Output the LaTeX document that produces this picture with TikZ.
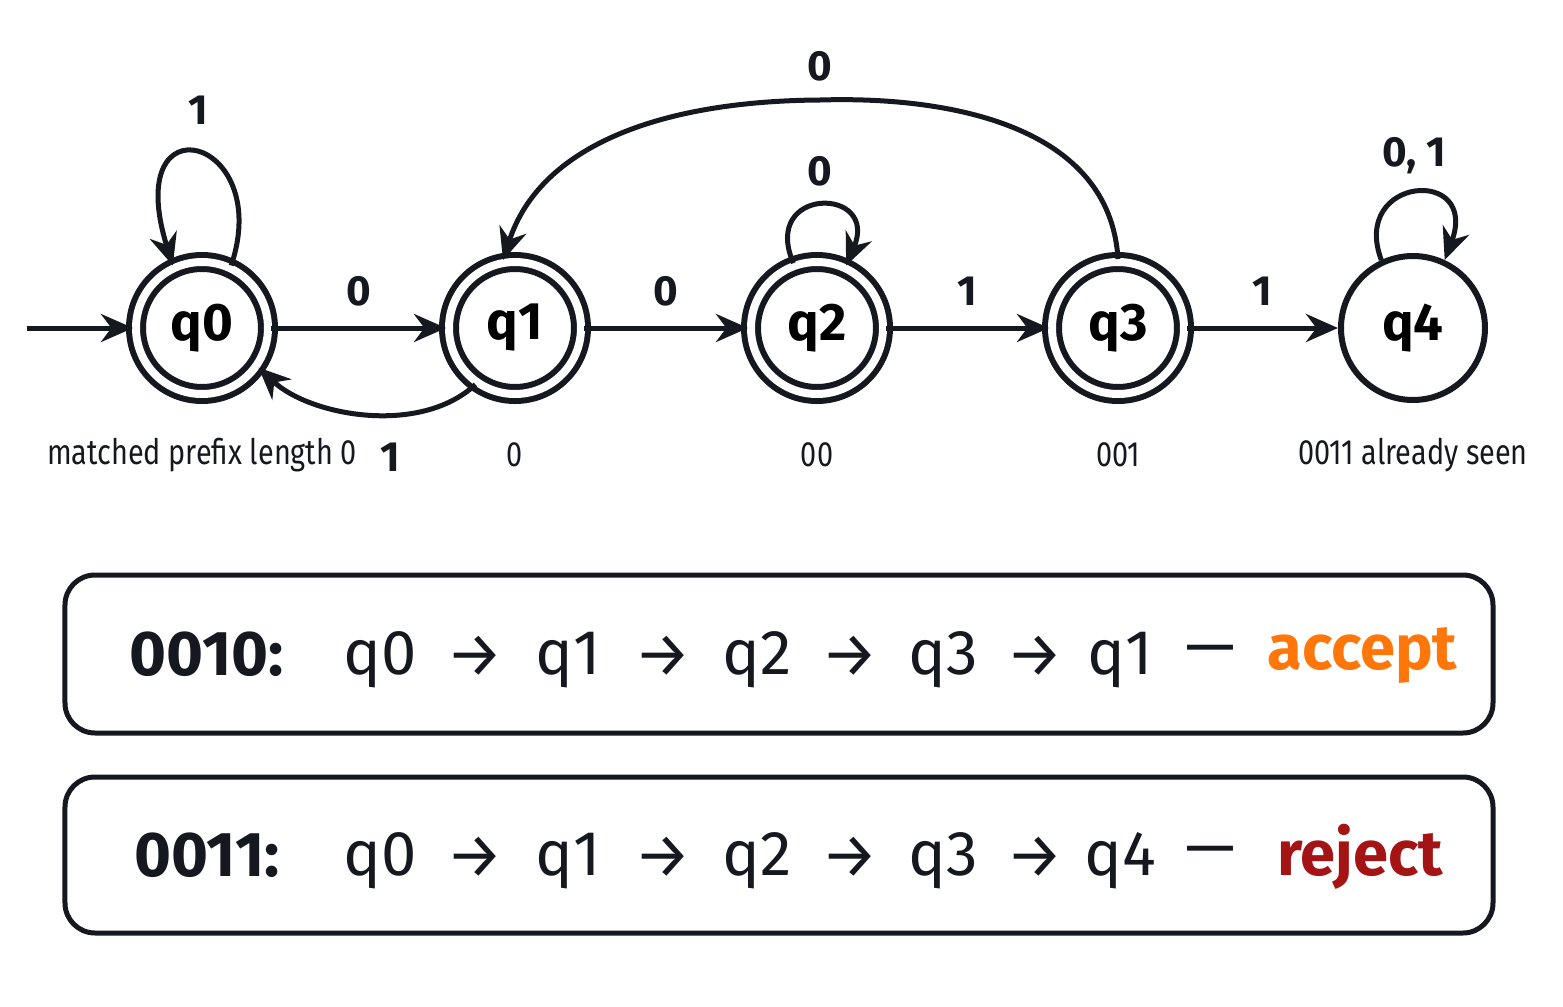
\documentclass[tikz,border=0pt]{standalone}
\usepackage{fontspec}
\setmainfont{Fira Sans}
\usetikzlibrary{positioning}
\usetikzlibrary{arrows.meta}
\definecolor{acceptcol}{RGB}{255,118,10}
\definecolor{rejectcol}{RGB}{165,20,20}
\definecolor{inkcol}{RGB}{22,24,32}

\tikzset{
  state/.style={circle, draw=inkcol, line width=0.6mm, minimum size=1.44cm, inner sep=0pt, font=\fontsize{15}{18}\selectfont\bfseries},
  accepting/.style={double=white, double distance=0.8mm, minimum size=1.32cm},
  edge/.style={draw=inkcol, line width=0.5mm, -{Stealth[length=3.2mm,width=2.8mm]}},
  elabel/.style={font=\fontsize{12}{14}\selectfont\bfseries, text=inkcol},
  note/.style={font=\fontsize{10}{12}\selectfont, text=inkcol, xscale=0.82},
  runbox/.style={draw=inkcol, line width=0.5mm, rounded corners=3mm},
  runtxt/.style={font=\fontsize{18}{22}\selectfont, text=inkcol},
  runword/.style={font=\fontsize{18}{22}\selectfont\bfseries, text=inkcol}
}

\begin{document}
\begin{tikzpicture}
\useasboundingbox (0,0) rectangle (15.63,10.06);

% states
\node[state, accepting] (q0) at (2.02,6.78) {q0};
\node[state, accepting] (q1) at (5.15,6.78) {q1};
\node[state, accepting] (q2) at (8.17,6.78) {q2};
\node[state, accepting] (q3) at (11.18,6.78) {q3};
\node[state] (q4) at (14.13,6.78) {q4};

\coordinate (start) at (0.27,6.78);

% transitions
\draw[edge] (start) -- (q0);
\draw[edge] (q0) -- node[elabel, above=0.8mm] {0} (q1);
\draw[edge] (q1) -- node[elabel, above=0.8mm] {0} (q2);
\draw[edge] (q2) -- node[elabel, above=0.8mm] {1} (q3);
\draw[edge] (q3) -- node[elabel, above=0.8mm] {1} (q4);
\draw[edge] (q1.-125) .. controls (4.2,5.7) and (3.1,5.9) .. (q0.-35);
\draw[edge] (q0.65) .. controls (2.75,8.7) and (1.2,9.1) .. node[elabel, above=1.5mm, pos=0.5] {1} (q0.115);
\draw[edge] (q2.110) .. controls (7.6,8.2) and (8.8,8.2) .. node[elabel, above=0.5mm] {0} (q2.65);
\draw[edge] (q4.115) .. controls (13.5,8.3) and (14.8,8.4) .. node[elabel, above=0.5mm] {0, 1} (q4.65);
\draw[edge] (q3.90) .. controls (11.1,8.8) and (9.5,9.1) .. (8.2,9.06)
  node[elabel, above=0.5mm] {0} .. controls (6.6,9.05) and (5.4,8.6) .. (q1.100);

% notes under states
\node[note] (n0) at (2.02,5.51) {matched prefix length 0};
\node[elabel] (l10) at (3.9,5.49) {1};
\node[note] (n1) at (5.15,5.51) {0};
\node[note] (n2) at (8.17,5.51) {00};
\node[note] (n3) at (11.18,5.51) {001};
\node[note] (n4) at (14.13,5.51) {0011 already seen};

% runs
\draw[runbox] (0.65,2.73) rectangle (14.93,4.31);
\draw[runbox] (0.65,0.73) rectangle (14.93,2.29);

\node[runword] (w1) at (2.07,3.52) {0010:};
\node[runtxt] (a0) at (3.8,3.46) {q0};
\node[runtxt] (a1) at (4.75,3.5) {→};
\node[runtxt] (a2) at (5.68,3.46) {q1};
\node[runtxt] (a3) at (6.63,3.5) {→};
\node[runtxt] (a4) at (7.57,3.46) {q2};
\node[runtxt] (a5) at (8.5,3.5) {→};
\node[runtxt] (a6) at (9.43,3.46) {q3};
\node[runtxt] (a7) at (10.35,3.5) {→};
\node[runtxt] (a8) at (11.2,3.46) {q1};
\node[runtxt] (a9) at (12.1,3.5) {—};
\node[runword, text=acceptcol, anchor=west] (a10) at (12.55,3.5) {accept};

\node[runword] (w2) at (2.07,1.51) {0011:};
\node[runtxt] (b0) at (3.8,1.45) {q0};
\node[runtxt] (b1) at (4.75,1.49) {→};
\node[runtxt] (b2) at (5.68,1.45) {q1};
\node[runtxt] (b3) at (6.63,1.49) {→};
\node[runtxt] (b4) at (7.57,1.45) {q2};
\node[runtxt] (b5) at (8.5,1.49) {→};
\node[runtxt] (b6) at (9.43,1.45) {q3};
\node[runtxt] (b7) at (10.35,1.49) {→};
\node[runtxt] (b8) at (11.2,1.45) {q4};
\node[runtxt] (b9) at (12.1,1.49) {—};
\node[runword, text=rejectcol, anchor=west] (b10) at (12.65,1.49) {reject};
\end{tikzpicture}
\end{document}
